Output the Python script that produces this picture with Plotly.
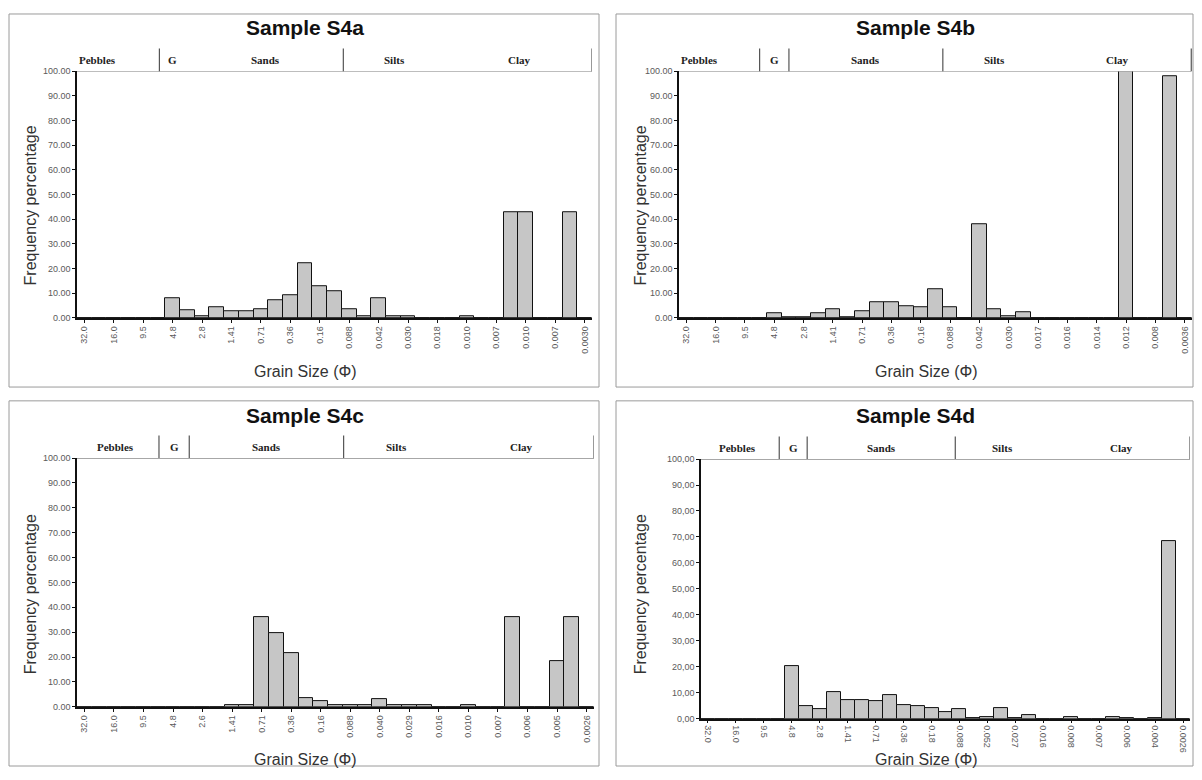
import plotly.graph_objects as go

# page body has an 8px margin: the figure is sized to fit inside the window
OFF = 8
W, H = 1202 - 2 * OFF, 780 - 2 * OFF

# ---------------- data ----------------
titles = ["Sample S4a", "Sample S4b", "Sample S4c", "Sample S4d"]

labels_a = ["32.0", "16.0", "9.5", "4.8", "2.8", "1.41", "0.71", "0.36", "0.16", "0.088",
            "0.042", "0.030", "0.018", "0.010", "0.007", "0.010", "0.007", "0.0030"]
labels_b = ["32.0", "16.0", "9.5", "4.8", "2.8", "1.41", "0.71", "0.36", "0.16", "0.088",
            "0.042", "0.030", "0.017", "0.016", "0.014", "0.012", "0.008", "0.0036"]
labels_c = ["32.0", "16.0", "9.5", "4.8", "2.6", "1.41", "0.71", "0.36", "0.16", "0.088",
            "0.040", "0.029", "0.016", "0.010", "0.007", "0.006", "0.005", "0.0026"]
labels_d = ["32.0", "16.0", "9.5", "4.8", "2.8", "1.41", "0.71", "0.36", "0.18", "0.088",
            "0.052", "0.027", "0.016", "0.008", "0.007", "0.006", "0.004", "0.0026"]

vals_a = [0, 0, 0, 0, 0, 0, 8.0, 3.3, 0.7, 4.3, 2.7, 2.7, 3.6, 7.1, 9.3, 22.3, 12.9, 10.7,
          3.6, 0.7, 8.0, 0.7, 0.5, 0, 0, 0, 0.7, 0, 0, 42.9, 42.9, 0, 0, 42.9, 0]
vals_b = [0, 0, 0, 0, 0, 0, 2.0, 0.2, 0.3, 2.0, 3.6, 0.3, 2.9, 6.3, 6.3, 4.9, 4.3, 11.6,
          4.3, 0, 38.0, 3.6, 0.7, 2.3, 0, 0, 0, 0, 0, 0, 101.5, 0, 0, 98.0, 0]
vals_c = [0, 0, 0, 0, 0, 0, 0, 0, 0, 0, 0.8, 0.8, 36.2, 29.5, 21.6, 3.7, 2.4, 0.8,
          0.8, 0.8, 3.0, 0.8, 0.8, 0.7, 0, 0, 0.7, 0, 0, 36.2, 0, 0, 18.3, 36.2, 0]
vals_d = [0, 0, 0, 0, 0, 0, 20.3, 4.8, 3.5, 10.4, 7.3, 7.3, 6.7, 8.9, 5.4, 4.8, 4.2, 2.5,
          3.8, 0.4, 0.6, 4.2, 0.4, 1.3, 0, 0, 0.6, 0, 0, 0.6, 0.4, 0, 0.4, 68.4, 0]

class_names = ["Pebbles", "G", "Sands", "Silts", "Clay"]
y_ticks = [0, 10, 20, 30, 40, 50, 60, 70, 80, 90, 100]

# ---------------- layout / style (window pixel coordinates) ----------------
areas = [(77, 592, 67, 317), (679, 1192, 67, 317), (77, 594, 459, 711), (701, 1190, 460, 723)]
boxes = [(9, 599, 9, 387), (616, 1193, 9, 387), (9, 599, 401, 771), (616, 1193, 401, 771)]
dividers = [[5.1, 17.6, 34.5], [5.0, 7.0, 17.5, 34.45], [5.05, 7.1, 17.55, 34.5], [5.1, 7.1, 17.7, 34.5]]
class_pos = [[0.9, 6.0, 12.3, 21.1, 29.6], [0.9, 6.0, 12.2, 21.0, 29.4],
             [2.1, 6.1, 12.3, 21.1, 29.6], [2.1, 6.1, 12.4, 21.1, 29.6]]
title_pos = [(305, 23), (915, 23), (305, 416), (915, 416)]
ylab_pos = [(30, 203), (640, 203), (30, 597), (640, 597)]
xlab_pos = [(305, 371), (926, 371), (305, 764), (926, 764)]
tick_angles = [-90, -90, -90, 90]
comma_dec = [False, False, False, True]

all_labels = [labels_a, labels_b, labels_c, labels_d]
all_vals = [vals_a, vals_b, vals_c, vals_d]


def px(x):
    return min(1.0, max(0.0, (x - OFF) / W))


def py(y):
    return min(1.0, max(0.0, 1 - (y - OFF) / H))


fig = go.Figure()
shapes = []
annotations = []
layout_axes = {}

for i in range(4):
    sfx = "" if i == 0 else str(i + 1)
    xa, ya = "x" + sfx, "y" + sfx
    vals = all_vals[i]
    labels = all_labels[i]
    n = len(vals)
    fig.add_trace(go.Bar(
        x=list(range(n)), y=vals, xaxis=xa, yaxis=ya, width=1.0,
        marker=dict(color="#c6c6c6", line=dict(color="#111111", width=1)),
        showlegend=False, hoverinfo="x+y"))
    l, r, t, b = areas[i]
    tickvals = list(range(0, n, 2))[:len(labels)]
    ytxt = [("%.2f" % v).replace(".", ",") if comma_dec[i] else "%.2f" % v for v in y_ticks]
    layout_axes["xaxis" + sfx] = dict(
        domain=[px(l), px(r)], anchor=ya, range=[-0.5, n - 0.5],
        tickmode="array", tickvals=tickvals, ticktext=labels, tickangle=tick_angles[i],
        tickfont=dict(family="Liberation Sans, Arial", size=9, color="#5a5a5a"),
        showline=True, linecolor="#111111", linewidth=1.5, ticks="outside", ticklen=3,
        tickcolor="#111111", showgrid=False, zeroline=False, fixedrange=True)
    layout_axes["yaxis" + sfx] = dict(
        domain=[py(b), py(t)], anchor=xa, range=[0, 100],
        tickmode="array", tickvals=y_ticks, ticktext=ytxt,
        tickfont=dict(family="Liberation Sans, Arial", size=9, color="#5a5a5a"),
        showline=True, linecolor="#111111", linewidth=1.5, ticks="outside", ticklen=3,
        tickcolor="#111111", showgrid=False, zeroline=False, fixedrange=True)

    # panel border
    bl, br, bt, bb = boxes[i]
    shapes.append(dict(type="rect", xref="paper", yref="paper", x0=px(bl), x1=px(br),
                       y0=py(bb), y1=py(bt), line=dict(color="#9a9a9a", width=1)))
    # header band: top line and dividers
    shapes.append(dict(type="line", xref=xa, yref=ya, x0=-0.5, x1=dividers[i][-1],
                       y0=100, y1=100, line=dict(color="#8a8a8a", width=1.2)))
    for d in dividers[i]:
        shapes.append(dict(type="line", xref=xa, yref="paper", x0=d, x1=d,
                           y0=py(t), y1=py(t - 23), line=dict(color="#555555", width=1.2)))
    for name, pos in zip(class_names, class_pos[i]):
        annotations.append(dict(text="<b>%s</b>" % name, xref=xa, yref="paper", x=pos,
                                y=py(t - 11), showarrow=False, xanchor="center", yanchor="middle",
                                font=dict(family="Liberation Serif, Times New Roman", size=11,
                                          color="#222222")))
    tx, ty = title_pos[i]
    annotations.append(dict(text="<b>%s</b>" % titles[i], xref="paper", yref="paper",
                            x=px(tx), y=py(ty), showarrow=False, xanchor="center",
                            yanchor="middle",
                            font=dict(family="Liberation Sans, Arial", size=21, color="#111111")))
    lx, ly = ylab_pos[i]
    annotations.append(dict(text="Frequency percentage", xref="paper", yref="paper",
                            x=px(lx), y=py(ly), showarrow=False, textangle=-90,
                            xanchor="center", yanchor="middle",
                            font=dict(family="Liberation Sans, Arial", size=16, color="#333333")))
    gx, gy = xlab_pos[i]
    annotations.append(dict(text="Grain Size (Φ)", xref="paper", yref="paper",
                            x=px(gx), y=py(gy), showarrow=False, xanchor="center",
                            yanchor="middle",
                            font=dict(family="Liberation Sans, Arial", size=16, color="#333333")))

fig.update_layout(
    width=W, height=H, margin=dict(l=0, r=0, t=0, b=0),
    paper_bgcolor="white", plot_bgcolor="white", bargap=0,
    shapes=shapes, annotations=annotations, showlegend=False, **layout_axes)

fig.write_html("out.html", config={"displayModeBar": False})
